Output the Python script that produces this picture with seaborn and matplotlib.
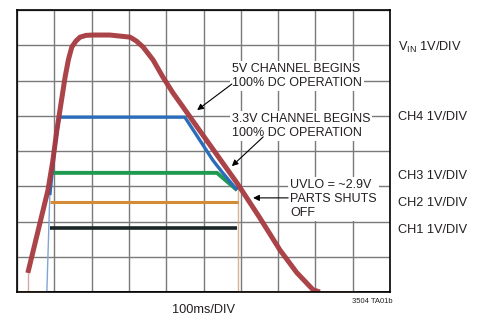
import matplotlib
matplotlib.use('Agg')
import matplotlib.pyplot as plt
import numpy as np
import pandas as pd
import seaborn as sns

sns.set_style('white')
plt.rcParams['font.family'] = ['Liberation Sans', 'DejaVu Sans']

# scope traces, in divisions (x: 100ms/div, y: 1V/div from bottom)
vin_x = [0.29, 0.83, 0.96, 1.07, 1.18, 1.29, 1.38, 1.47, 1.58, 1.69, 1.85, 2.04, 2.49, 3.03, 3.20,
         3.38, 3.65, 3.91, 4.18, 4.45, 4.83, 5.90, 6.50, 7.05, 7.50, 7.94, 8.12]
vin_y = [0.54, 2.89, 3.72, 4.60, 5.35, 6.10, 6.60, 6.95, 7.12, 7.23, 7.28, 7.29, 7.29, 7.23, 7.12,
         6.95, 6.58, 6.10, 5.65, 5.25, 4.68, 3.09, 2.12, 1.19, 0.55, 0.06, 0.00]
vin_step_x = [0.29, 0.29]
vin_step_y = [0.00, 0.54]
ch4_x = [0.88, 1.00, 1.13, 4.50, 5.25, 5.50, 5.90]
ch4_y = [2.75, 4.00, 4.96, 4.96, 3.74, 3.40, 2.89]
ch4_rise_x = [0.80, 0.88]
ch4_rise_y = [0.00, 2.75]
ch3_x = [0.88, 5.36, 5.90]
ch3_y = [3.38, 3.38, 2.89]
ch2_x = [0.88, 5.92]
ch2_y = [2.55, 2.55]
ch2_base1_x = [0.00, 0.80]
ch2_base2_x = [5.94, 9.12]
ch2_base_y = [0.00, 0.00]
drop_x = [5.93, 5.93]
drop_y = [3.00, 0.00]
ch1_x = [0.88, 5.90]
ch1_y = [1.82, 1.82]
base_x = [0.0, 10.0]
base_y = [0.0, 0.0]

right_labels = ['CH1 1V/DIV', 'CH2 1V/DIV', 'CH3 1V/DIV', 'CH4 1V/DIV', 'V$_{\\mathregular{IN}}$ 1V/DIV']
right_label_y = [1.76, 2.52, 3.29, 4.96, 6.95]

c_vin = '#a63a3f'
c_ch4 = '#2a6ebb'
c_ch3 = '#1f9a4f'
c_ch2 = '#d38b35'
c_ch1 = '#1b2626'
c_txt = '#231f20'

fig = plt.figure(figsize=(4.82, 3.18), dpi=100)
ax = fig.add_axes([17/482, 26/318, 373/482, 282/318])

def trace(x, y, color, lw, alpha=1.0):
    df = pd.DataFrame({'x': x, 'y': y})
    sns.lineplot(data=df, x='x', y='y', sort=False, estimator=None, color=color,
                 lw=lw, alpha=alpha, ax=ax, solid_joinstyle='round', solid_capstyle='butt', zorder=3)

trace(base_x, base_y, c_ch1, 2.0)
trace(ch1_x, ch1_y, c_ch1, 2.6)
trace(drop_x, drop_y, '#c9a27a', 1.0, 0.8)
trace(ch2_base1_x, ch2_base_y, c_ch2, 2.0)
trace(ch2_base2_x, ch2_base_y, c_ch2, 2.0)
trace(ch2_x, ch2_y, c_ch2, 2.2)
trace(ch3_x, ch3_y, c_ch3, 2.8)
trace(ch4_rise_x, ch4_rise_y, '#7fa5d6', 1.0)
trace(ch4_x, ch4_y, c_ch4, 2.4)
trace(vin_step_x, vin_step_y, '#d4a7a5', 1.0)
trace(vin_x, vin_y, c_vin, 3.6, 0.95)

ax.set_xlim(0, 10)
ax.set_ylim(0, 8)
ax.set_xticks(np.arange(0, 11))
ax.set_yticks(np.arange(0, 9))
ax.grid(True, color='#7a7a7a', lw=1.0)
ax.tick_params(length=0, labelbottom=False, labelleft=False)
ax.set_xlabel('')
ax.set_ylabel('')
for s in ax.spines.values():
    s.set_color('black')
    s.set_linewidth(1.2)
    s.set_zorder(5)

box = dict(facecolor='white', edgecolor='none', pad=1.5)
fs = 9
ax.text(5.76, 6.13, '5V CHANNEL BEGINS\n100% DC OPERATION', fontsize=fs, va='center', ha='left',
        linespacing=1.25, bbox=box, zorder=4, color=c_txt)
ax.text(5.76, 4.71, '3.3V CHANNEL BEGINS\n100% DC OPERATION', fontsize=fs, va='center', ha='left',
        linespacing=1.25, bbox=box, zorder=4, color=c_txt)
ax.text(7.32, 2.64, 'UVLO = ~2.9V\nPARTS SHUTS\nOFF', fontsize=fs, va='center', ha='left',
        linespacing=1.2, bbox=box, zorder=4, color=c_txt)

arrow = dict(arrowstyle='-|>', color='black', lw=0.8, mutation_scale=9, shrinkA=0, shrinkB=0)
ax.annotate('', xy=(4.83, 5.16), xytext=(5.76, 5.90), arrowprops=arrow, zorder=6)
ax.annotate('', xy=(5.76, 3.57), xytext=(6.60, 4.40), arrowprops=arrow, zorder=6)
ax.annotate('', xy=(6.33, 2.67), xytext=(7.27, 2.67), arrowprops=arrow, zorder=6)

for lab, y in zip(right_labels, right_label_y):
    ax.text(10.21, y, lab, fontsize=9.2, va='center', ha='left', clip_on=False, color=c_txt)

ax.text(5.01, -0.51, '100ms/DIV', fontsize=9.2, va='center', ha='center', clip_on=False, color=c_txt)
ax.text(9.52, -0.28, '3504 TA01b', fontsize=5.5, va='center', ha='center', clip_on=False, color=c_txt)

fig.savefig('out.png', dpi=100)
